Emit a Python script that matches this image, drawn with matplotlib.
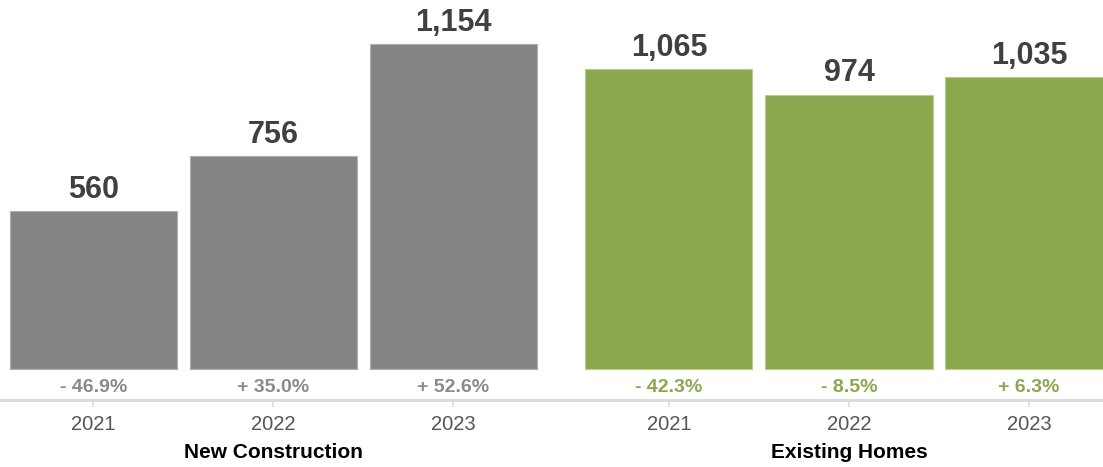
import matplotlib.pyplot as plt
import matplotlib.transforms as mtransforms

years = ["2021", "2022", "2023"]
groups = ["New Construction", "Existing Homes"]
new_construction = [560, 756, 1154]
existing_homes = [1065, 974, 1035]
new_change = [-46.9, 35.0, 52.6]
existing_change = [-42.3, -8.5, 6.3]

gray = "#848484"
green = "#8ba84e"

plt.rcParams['font.family'] = ['Liberation Sans', 'DejaVu Sans']

fig = plt.figure(figsize=(11.03, 4.67), dpi=100)
ax = fig.add_axes([0, 1 - 400 / 467, 1, 400 / 467])

# two groups of three bars with a wider gap between groups
width = 0.928
gap = 1.197
pos_new = [0, 1, 2]
pos_old = [2 + gap + i for i in range(3)]

ax.bar(pos_new, new_construction, width=width, color=gray,
       edgecolor="#b0b0b0", linewidth=0.8)
ax.bar(pos_old, existing_homes, width=width, color=green,
       edgecolor="#b8cb90", linewidth=0.8)


def fmt_change(v):
    sign = "+" if v >= 0 else "-"
    return "%s %.1f%%" % (sign, abs(v))


for x, v, c in zip(pos_new, new_construction, new_change):
    ax.text(x, v + 47, "{:,}".format(v), ha="center", va="baseline",
            fontsize=22, fontweight="bold", color="#404040")
    ax.text(x, -67, fmt_change(c), ha="center", va="center",
            fontsize=14, fontweight="bold", color="#8a8a8a")
for x, v, c in zip(pos_old, existing_homes, existing_change):
    ax.text(x, v + 47, "{:,}".format(v), ha="center", va="baseline",
            fontsize=22, fontweight="bold", color="#404040")
    ax.text(x, -67, fmt_change(c), ha="center", va="center",
            fontsize=14, fontweight="bold", color=green)

ax.set_xlim(-0.519, 5.608)
ax.set_ylim(-110, 1310)

for s in ["top", "left", "right"]:
    ax.spines[s].set_visible(False)
ax.spines["bottom"].set_color("#d9d9d9")
ax.spines["bottom"].set_linewidth(2)
ax.set_yticks([])
ax.set_xticks(pos_new + pos_old)
ax.set_xticklabels(years + years)
ax.tick_params(axis="x", length=5, width=1.2, color="#d9d9d9",
               labelsize=14.5, labelcolor="#555555", pad=6)

trans = mtransforms.blended_transform_factory(ax.transData, fig.transFigure)
ax.text(pos_new[1], 1 - 452 / 467, groups[0], transform=trans, ha="center",
        va="center", fontsize=15, fontweight="bold", color="black")
ax.text(pos_old[1], 1 - 452 / 467, groups[1], transform=trans, ha="center",
        va="center", fontsize=15, fontweight="bold", color="black")

fig.savefig("out.png", dpi=100)
